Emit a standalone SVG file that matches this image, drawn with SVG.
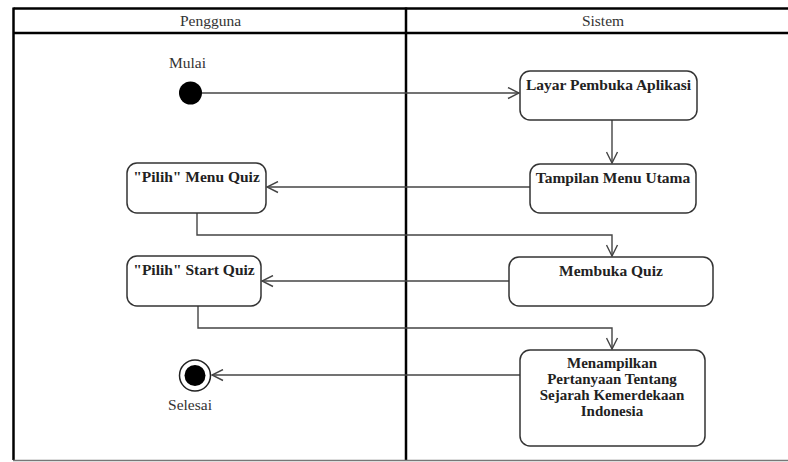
<svg xmlns="http://www.w3.org/2000/svg" width="788" height="462" viewBox="0 0 788 462">
  <style>
    .lane { stroke: #000; stroke-width: 2.5; fill: none; }
    .hdr { font-family: "Liberation Serif", "Times New Roman", serif; font-size: 15.5px; fill: #333; text-anchor: middle; }
    .lbl { font-family: "Liberation Serif", "Times New Roman", serif; font-size: 15.5px; fill: #333; text-anchor: middle; }
    .act rect { fill: #fff; stroke: #333; stroke-width: 1.5; }
    .act text { font-family: "Liberation Serif", "Times New Roman", serif; font-size: 15.5px; font-weight: bold; fill: #222; text-anchor: middle; }
    .act text.multi { font-size: 15px; }
    .flow { stroke: #444; stroke-width: 1.4; fill: none; marker-end: url(#open); }
  </style>
  <defs>
    <marker id="open" viewBox="0 0 13 13" refX="12" refY="6.5" markerWidth="13" markerHeight="13" markerUnits="userSpaceOnUse" orient="auto">
      <path d="M1,1 L12,6.5 L1,12" fill="none" stroke="#444" stroke-width="1.4"/>
    </marker>
  </defs>
  <rect width="788" height="462" fill="#fff"/>

  <!-- swimlane frame -->
  <g id="swimlanes">
    <line class="lane" x1="13.5" y1="8.5" x2="788" y2="8.5"/>
    <line class="lane" x1="13.5" y1="33" x2="788" y2="33"/>
    <line class="lane" x1="13.5" y1="7.5" x2="13.5" y2="460"/>
    <line class="lane" x1="406" y1="7.5" x2="406" y2="460"/>
    <line x1="13" y1="460.5" x2="788" y2="460.5" stroke="#777" stroke-width="1.5"/>
    <text class="hdr" x="210.5" y="26">Pengguna</text>
    <text class="hdr" x="603" y="26">Sistem</text>
  </g>

  <!-- connectors -->
  <g id="connectors">
    <path class="flow" d="M201,93 H519"/>
    <path class="flow" d="M612,120 V163"/>
    <path class="flow" d="M530,187 H267"/>
    <path class="flow" d="M197,213 V235 H612 V256"/>
    <path class="flow" d="M509,281 H262"/>
    <path class="flow" d="M198,306 V328 H612 V349"/>
    <path class="flow" d="M520,375 H212"/>
  </g>

  <g id="start">
    <circle cx="190.5" cy="93" r="11.5" fill="#000"/>
    <text class="lbl" x="187.5" y="68">Mulai</text>
  </g>

  <g id="layar" class="act">
    <rect x="520" y="71" width="177" height="49" rx="10"/>
    <text x="608.5" y="90">Layar Pembuka Aplikasi</text>
  </g>

  <g id="tampilan" class="act">
    <rect x="530" y="164" width="166" height="49" rx="10"/>
    <text x="613" y="183">Tampilan Menu Utama</text>
  </g>

  <g id="pilih-menu" class="act">
    <rect x="127" y="163" width="139" height="50" rx="10"/>
    <text x="196.5" y="182">"Pilih" Menu Quiz</text>
  </g>

  <g id="membuka" class="act">
    <rect x="509" y="257" width="204" height="49" rx="10"/>
    <text x="611" y="276">Membuka Quiz</text>
  </g>

  <g id="pilih-start" class="act">
    <rect x="127" y="256" width="134" height="50" rx="10"/>
    <text x="194" y="275">"Pilih" Start Quiz</text>
  </g>

  <g id="menampilkan" class="act">
    <rect x="520" y="350" width="185" height="96" rx="10"/>
    <text class="multi" x="612" y="368">Menampilkan</text>
    <text class="multi" x="612" y="384">Pertanyaan Tentang</text>
    <text class="multi" x="612" y="400">Sejarah Kemerdekaan</text>
    <text class="multi" x="612" y="416">Indonesia</text>
  </g>

  <g id="end">
    <circle cx="195" cy="375.5" r="15.5" fill="#fff" stroke="#222" stroke-width="1.5"/>
    <circle cx="195" cy="375.5" r="10.5" fill="#000"/>
    <text class="lbl" x="190" y="410">Selesai</text>
  </g>
</svg>
